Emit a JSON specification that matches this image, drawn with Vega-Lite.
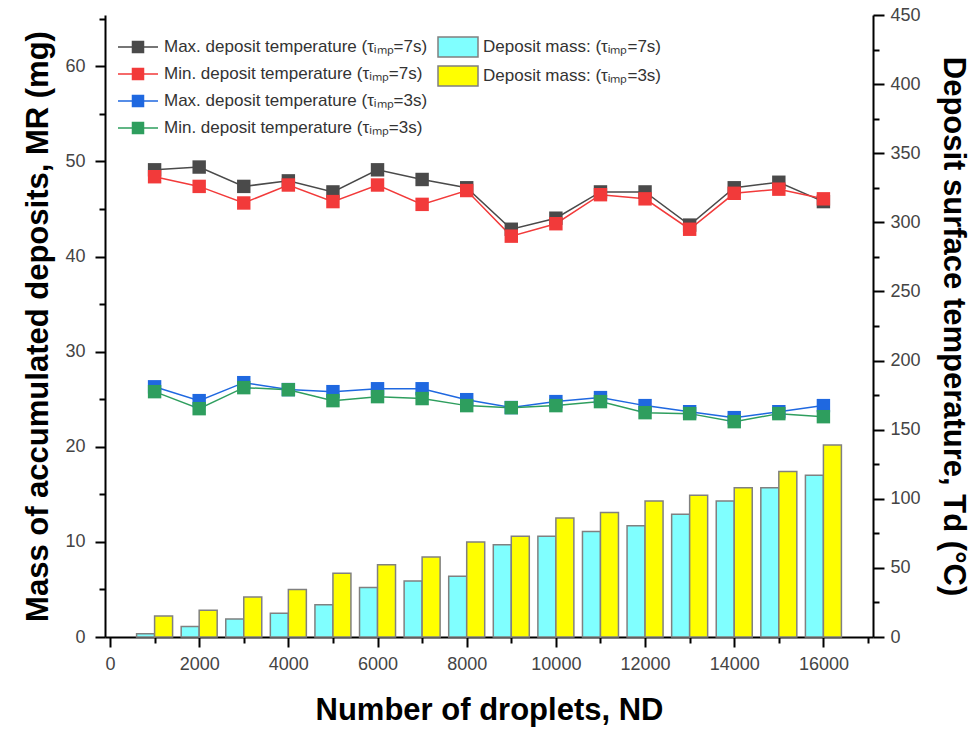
{
  "$schema": "https://vega.github.io/schema/vega-lite/v6.json",
  "width": 768,
  "height": 622,
  "autosize": {"type": "none"},
  "padding": {"left": 105, "top": 15, "right": 104, "bottom": 92},
  "background": "white",
  "config": {
    "view": {"stroke": null},
    "font": "Liberation Sans",
    "axis": {
      "grid": false,
      "domainColor": "black",
      "domainWidth": 2,
      "tickColor": "black",
      "tickWidth": 2,
      "labelFont": "Liberation Sans",
      "labelFontSize": 18,
      "labelColor": "#444444",
      "labelFlush": false,
      "labelOverlap": false,
      "titleFont": "Liberation Sans",
      "titleFontSize": 31,
      "titleFontWeight": "bold",
      "titleColor": "black"
    },
    "legend": {
      "labelFont": "Liberation Sans",
      "labelFontSize": 17,
      "labelColor": "#333333",
      "labelLimit": 0,
      "padding": 0
    }
  },
  "datasets": {
    "mass": [
      {"N": 1000, "series": "Deposit mass: (τᵢₘₚ=7s)", "mass": 0.35},
      {"N": 2000, "series": "Deposit mass: (τᵢₘₚ=7s)", "mass": 1.1},
      {"N": 3000, "series": "Deposit mass: (τᵢₘₚ=7s)", "mass": 1.9},
      {"N": 4000, "series": "Deposit mass: (τᵢₘₚ=7s)", "mass": 2.5},
      {"N": 5000, "series": "Deposit mass: (τᵢₘₚ=7s)", "mass": 3.4},
      {"N": 6000, "series": "Deposit mass: (τᵢₘₚ=7s)", "mass": 5.2},
      {"N": 7000, "series": "Deposit mass: (τᵢₘₚ=7s)", "mass": 5.9},
      {"N": 8000, "series": "Deposit mass: (τᵢₘₚ=7s)", "mass": 6.4},
      {"N": 9000, "series": "Deposit mass: (τᵢₘₚ=7s)", "mass": 9.7},
      {"N": 10000, "series": "Deposit mass: (τᵢₘₚ=7s)", "mass": 10.6},
      {"N": 11000, "series": "Deposit mass: (τᵢₘₚ=7s)", "mass": 11.1},
      {"N": 12000, "series": "Deposit mass: (τᵢₘₚ=7s)", "mass": 11.7},
      {"N": 13000, "series": "Deposit mass: (τᵢₘₚ=7s)", "mass": 12.9},
      {"N": 14000, "series": "Deposit mass: (τᵢₘₚ=7s)", "mass": 14.3},
      {"N": 15000, "series": "Deposit mass: (τᵢₘₚ=7s)", "mass": 15.7},
      {"N": 16000, "series": "Deposit mass: (τᵢₘₚ=7s)", "mass": 17.0},
      {"N": 1000, "series": "Deposit mass: (τᵢₘₚ=3s)", "mass": 2.2},
      {"N": 2000, "series": "Deposit mass: (τᵢₘₚ=3s)", "mass": 2.8},
      {"N": 3000, "series": "Deposit mass: (τᵢₘₚ=3s)", "mass": 4.2},
      {"N": 4000, "series": "Deposit mass: (τᵢₘₚ=3s)", "mass": 5.0},
      {"N": 5000, "series": "Deposit mass: (τᵢₘₚ=3s)", "mass": 6.7},
      {"N": 6000, "series": "Deposit mass: (τᵢₘₚ=3s)", "mass": 7.6},
      {"N": 7000, "series": "Deposit mass: (τᵢₘₚ=3s)", "mass": 8.4},
      {"N": 8000, "series": "Deposit mass: (τᵢₘₚ=3s)", "mass": 10.0},
      {"N": 9000, "series": "Deposit mass: (τᵢₘₚ=3s)", "mass": 10.6},
      {"N": 10000, "series": "Deposit mass: (τᵢₘₚ=3s)", "mass": 12.5},
      {"N": 11000, "series": "Deposit mass: (τᵢₘₚ=3s)", "mass": 13.1},
      {"N": 12000, "series": "Deposit mass: (τᵢₘₚ=3s)", "mass": 14.3},
      {"N": 13000, "series": "Deposit mass: (τᵢₘₚ=3s)", "mass": 14.9},
      {"N": 14000, "series": "Deposit mass: (τᵢₘₚ=3s)", "mass": 15.7},
      {"N": 15000, "series": "Deposit mass: (τᵢₘₚ=3s)", "mass": 17.4},
      {"N": 16000, "series": "Deposit mass: (τᵢₘₚ=3s)", "mass": 20.2}
    ],
    "temp": [
      {"N": 1000, "series": "Max. deposit temperature (τᵢₘₚ=7s)", "T": 338},
      {"N": 2000, "series": "Max. deposit temperature (τᵢₘₚ=7s)", "T": 340},
      {"N": 3000, "series": "Max. deposit temperature (τᵢₘₚ=7s)", "T": 326},
      {"N": 4000, "series": "Max. deposit temperature (τᵢₘₚ=7s)", "T": 330},
      {"N": 5000, "series": "Max. deposit temperature (τᵢₘₚ=7s)", "T": 322},
      {"N": 6000, "series": "Max. deposit temperature (τᵢₘₚ=7s)", "T": 338},
      {"N": 7000, "series": "Max. deposit temperature (τᵢₘₚ=7s)", "T": 331},
      {"N": 8000, "series": "Max. deposit temperature (τᵢₘₚ=7s)", "T": 325},
      {"N": 9000, "series": "Max. deposit temperature (τᵢₘₚ=7s)", "T": 295},
      {"N": 10000, "series": "Max. deposit temperature (τᵢₘₚ=7s)", "T": 303},
      {"N": 11000, "series": "Max. deposit temperature (τᵢₘₚ=7s)", "T": 322},
      {"N": 12000, "series": "Max. deposit temperature (τᵢₘₚ=7s)", "T": 322},
      {"N": 13000, "series": "Max. deposit temperature (τᵢₘₚ=7s)", "T": 298},
      {"N": 14000, "series": "Max. deposit temperature (τᵢₘₚ=7s)", "T": 325},
      {"N": 15000, "series": "Max. deposit temperature (τᵢₘₚ=7s)", "T": 329},
      {"N": 16000, "series": "Max. deposit temperature (τᵢₘₚ=7s)", "T": 315},
      {"N": 1000, "series": "Min. deposit temperature (τᵢₘₚ=7s)", "T": 333},
      {"N": 2000, "series": "Min. deposit temperature (τᵢₘₚ=7s)", "T": 326},
      {"N": 3000, "series": "Min. deposit temperature (τᵢₘₚ=7s)", "T": 314},
      {"N": 4000, "series": "Min. deposit temperature (τᵢₘₚ=7s)", "T": 327},
      {"N": 5000, "series": "Min. deposit temperature (τᵢₘₚ=7s)", "T": 315},
      {"N": 6000, "series": "Min. deposit temperature (τᵢₘₚ=7s)", "T": 327},
      {"N": 7000, "series": "Min. deposit temperature (τᵢₘₚ=7s)", "T": 313},
      {"N": 8000, "series": "Min. deposit temperature (τᵢₘₚ=7s)", "T": 323},
      {"N": 9000, "series": "Min. deposit temperature (τᵢₘₚ=7s)", "T": 290},
      {"N": 10000, "series": "Min. deposit temperature (τᵢₘₚ=7s)", "T": 299},
      {"N": 11000, "series": "Min. deposit temperature (τᵢₘₚ=7s)", "T": 320},
      {"N": 12000, "series": "Min. deposit temperature (τᵢₘₚ=7s)", "T": 317},
      {"N": 13000, "series": "Min. deposit temperature (τᵢₘₚ=7s)", "T": 295},
      {"N": 14000, "series": "Min. deposit temperature (τᵢₘₚ=7s)", "T": 321},
      {"N": 15000, "series": "Min. deposit temperature (τᵢₘₚ=7s)", "T": 324},
      {"N": 16000, "series": "Min. deposit temperature (τᵢₘₚ=7s)", "T": 317},
      {"N": 1000, "series": "Max. deposit temperature (τᵢₘₚ=3s)", "T": 181},
      {"N": 2000, "series": "Max. deposit temperature (τᵢₘₚ=3s)", "T": 171},
      {"N": 3000, "series": "Max. deposit temperature (τᵢₘₚ=3s)", "T": 184},
      {"N": 4000, "series": "Max. deposit temperature (τᵢₘₚ=3s)", "T": 179},
      {"N": 5000, "series": "Max. deposit temperature (τᵢₘₚ=3s)", "T": 177.5},
      {"N": 6000, "series": "Max. deposit temperature (τᵢₘₚ=3s)", "T": 179.6},
      {"N": 7000, "series": "Max. deposit temperature (τᵢₘₚ=3s)", "T": 179.6},
      {"N": 8000, "series": "Max. deposit temperature (τᵢₘₚ=3s)", "T": 171.7},
      {"N": 9000, "series": "Max. deposit temperature (τᵢₘₚ=3s)", "T": 166},
      {"N": 10000, "series": "Max. deposit temperature (τᵢₘₚ=3s)", "T": 170.3},
      {"N": 11000, "series": "Max. deposit temperature (τᵢₘₚ=3s)", "T": 173.2},
      {"N": 12000, "series": "Max. deposit temperature (τᵢₘₚ=3s)", "T": 167.4},
      {"N": 13000, "series": "Max. deposit temperature (τᵢₘₚ=3s)", "T": 163},
      {"N": 14000, "series": "Max. deposit temperature (τᵢₘₚ=3s)", "T": 158.7},
      {"N": 15000, "series": "Max. deposit temperature (τᵢₘₚ=3s)", "T": 163},
      {"N": 16000, "series": "Max. deposit temperature (τᵢₘₚ=3s)", "T": 167.4},
      {"N": 1000, "series": "Min. deposit temperature (τᵢₘₚ=3s)", "T": 177.5},
      {"N": 2000, "series": "Min. deposit temperature (τᵢₘₚ=3s)", "T": 165.2},
      {"N": 3000, "series": "Min. deposit temperature (τᵢₘₚ=3s)", "T": 180.4},
      {"N": 4000, "series": "Min. deposit temperature (τᵢₘₚ=3s)", "T": 178.9},
      {"N": 5000, "series": "Min. deposit temperature (τᵢₘₚ=3s)", "T": 171},
      {"N": 6000, "series": "Min. deposit temperature (τᵢₘₚ=3s)", "T": 173.9},
      {"N": 7000, "series": "Min. deposit temperature (τᵢₘₚ=3s)", "T": 172.5},
      {"N": 8000, "series": "Min. deposit temperature (τᵢₘₚ=3s)", "T": 167.4},
      {"N": 9000, "series": "Min. deposit temperature (τᵢₘₚ=3s)", "T": 165.9},
      {"N": 10000, "series": "Min. deposit temperature (τᵢₘₚ=3s)", "T": 167.4},
      {"N": 11000, "series": "Min. deposit temperature (τᵢₘₚ=3s)", "T": 170.3},
      {"N": 12000, "series": "Min. deposit temperature (τᵢₘₚ=3s)", "T": 162.3},
      {"N": 13000, "series": "Min. deposit temperature (τᵢₘₚ=3s)", "T": 161.6},
      {"N": 14000, "series": "Min. deposit temperature (τᵢₘₚ=3s)", "T": 155.8},
      {"N": 15000, "series": "Min. deposit temperature (τᵢₘₚ=3s)", "T": 161.6},
      {"N": 16000, "series": "Min. deposit temperature (τᵢₘₚ=3s)", "T": 159.4}
    ]
  },
  "layer": [
    {
      "data": {"name": "mass"},
      "encoding": {
        "x": {
          "field": "N", "type": "quantitative",
          "scale": {"domain": [0, 17000], "nice": false, "zero": false},
          "axis": {
            "title": "Number of droplets, ND",
            "values": [0, 1000, 2000, 3000, 4000, 5000, 6000, 7000, 8000, 9000, 10000, 11000, 12000, 13000, 14000, 15000, 16000, 17000],
            "format": "d",
            "labelExpr": "(datum.value % 2000 === 0 && datum.value < 17000) ? datum.label : ''",
            "tickSize": {"condition": {"test": "datum.value % 2000 === 0", "value": 10}, "value": 6},
            "labelPadding": 8,
            "titlePadding": 22
          }
        },
        "y": {
          "field": "mass", "type": "quantitative",
          "scale": {"domain": [0, 65.4], "nice": false},
          "axis": {
            "orient": "left",
            "title": "Mass of accumulated deposits, MR (mg)",
            "values": [0, 5, 10, 15, 20, 25, 30, 35, 40, 45, 50, 55, 60, 65],
            "labelExpr": "datum.value % 10 === 0 ? datum.label : ''",
            "tickSize": {"condition": {"test": "datum.value % 10 === 0", "value": 10}, "value": 6},
            "labelPadding": 10,
            "titlePadding": 10
          }
        },
        "fill": {
          "field": "series", "type": "nominal",
          "scale": {"domain": ["Deposit mass: (τᵢₘₚ=7s)", "Deposit mass: (τᵢₘₚ=3s)"], "range": ["#80ffff", "#ffff00"]},
          "legend": {
            "orient": "none", "legendX": 342, "legendY": 21, "title": null,
            "symbolType": "M-2,-1H2V1H-2Z", "symbolSize": 400,
            "symbolStrokeColor": "#808080", "symbolStrokeWidth": 1.5,
            "labelOffset": 14, "rowPadding": 3
          }
        }
      },
      "layer": [
        {
          "transform": [{"filter": "datum.series === 'Deposit mass: (τᵢₘₚ=7s)'"}],
          "mark": {"type": "bar", "width": 18, "xOffset": -9, "stroke": "#808080", "strokeWidth": 1.5}
        },
        {
          "transform": [{"filter": "datum.series === 'Deposit mass: (τᵢₘₚ=3s)'"}],
          "mark": {"type": "bar", "width": 18, "xOffset": 9, "stroke": "#808080", "strokeWidth": 1.5}
        }
      ]
    },
    {
      "data": {"name": "temp"},
      "encoding": {
        "x": {
          "field": "N", "type": "quantitative",
          "scale": {"domain": [0, 17000], "nice": false, "zero": false},
          "axis": {
            "title": "Number of droplets, ND",
            "values": [0, 1000, 2000, 3000, 4000, 5000, 6000, 7000, 8000, 9000, 10000, 11000, 12000, 13000, 14000, 15000, 16000, 17000],
            "format": "d",
            "labelExpr": "(datum.value % 2000 === 0 && datum.value < 17000) ? datum.label : ''",
            "tickSize": {"condition": {"test": "datum.value % 2000 === 0", "value": 10}, "value": 6},
            "labelPadding": 8,
            "titlePadding": 22
          }
        },
        "y": {
          "field": "T", "type": "quantitative",
          "scale": {"domain": [0, 450], "nice": false},
          "axis": {
            "orient": "right",
            "title": "Deposit surface temperature, Td (°C)",
            "values": [0, 25, 50, 75, 100, 125, 150, 175, 200, 225, 250, 275, 300, 325, 350, 375, 400, 425, 450],
            "labelExpr": "datum.value % 50 === 0 ? datum.label : ''",
            "tickSize": {"condition": {"test": "datum.value % 50 === 0", "value": 11}, "value": 6},
            "labelPadding": 6,
            "titlePadding": 16
          }
        },
        "color": {
          "field": "series", "type": "nominal",
          "scale": {
            "domain": ["Max. deposit temperature (τᵢₘₚ=7s)", "Min. deposit temperature (τᵢₘₚ=7s)", "Max. deposit temperature (τᵢₘₚ=3s)", "Min. deposit temperature (τᵢₘₚ=3s)"],
            "range": ["#4a4a4a", "#f23a3a", "#1f68e0", "#2e9e5e"]
          },
          "legend": {
            "orient": "none", "legendX": 22, "legendY": 21, "title": null,
            "symbolType": "M-2,0H2M-0.55,-0.55H0.55V0.55H-0.55Z", "symbolSize": 400,
            "symbolStrokeWidth": 1.5,
            "labelOffset": 15, "rowPadding": 7,
            "encode": {"symbols": {"update": {"fill": {"scale": "color", "field": "value"}, "stroke": {"scale": "color", "field": "value"}}}}
          }
        }
      },
      "layer": [
        {"mark": {"type": "line", "strokeWidth": 1.5}},
        {"mark": {"type": "point", "shape": "square", "filled": true, "size": 180, "opacity": 1}}
      ]
    }
  ],
  "resolve": {"scale": {"y": "independent"}, "axis": {"y": "independent"}}
}
